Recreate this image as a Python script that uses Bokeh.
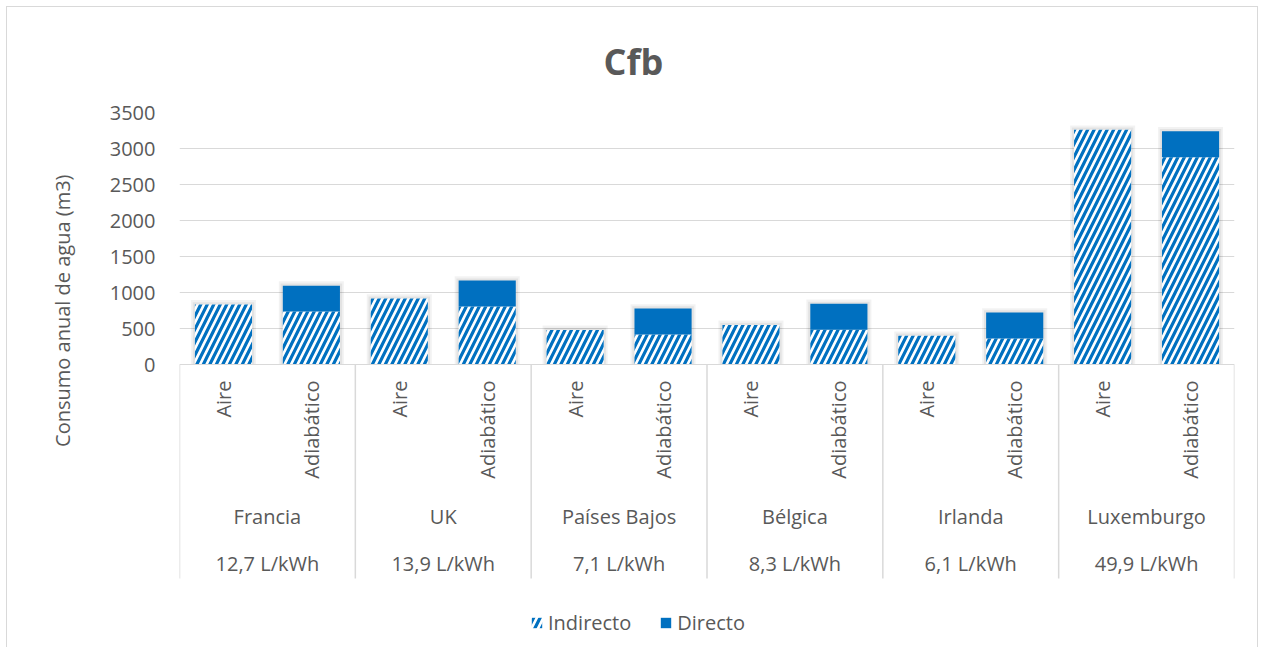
import math
from bokeh.plotting import figure
from bokeh.models import Range1d, FixedTicker, Span, Legend, LegendItem, Title
from bokeh.core.properties import value
from bokeh.embed import file_html
from bokeh.resources import INLINE

# ---------------- data ----------------
countries = ["Francia", "UK", "Países Bajos", "Bélgica", "Irlanda", "Luxemburgo"]
intensities = ["12,7 L/kWh", "13,9 L/kWh", "7,1 L/kWh", "8,3 L/kWh", "6,1 L/kWh", "49,9 L/kWh"]
systems = ["Aire", "Adiabático"]
indirecto_aire = [835, 915, 480, 550, 400, 3260]
indirecto_adiabatico = [735, 805, 415, 482, 360, 2880]
directo_aire = [0, 0, 0, 0, 0, 0]
directo_adiabatico = [360, 360, 363, 361, 362, 360]
y_ticks = [0, 500, 1000, 1500, 2000, 2500, 3000, 3500]
series_names = ["Indirecto", "Directo"]

# ---------------- style / layout ----------------
BLUE = "#0070C0"
TXT = "#595959"
GRID = "#d9d9d9"
FONT = "Open Sans"
OFFSET = 7              # page px where the figure starts
W, H = 1250, 641
FRAME_LEFT_PX = 179
FRAME_RIGHT_PX = 1234
FRAME_TOP_PX = 112      # page px of y = top tick
ZERO_PX = 364           # page px of y = 0
Y_MAX = y_ticks[-1]
px_per_unit = (ZERO_PX - FRAME_TOP_PX) / Y_MAX


def ydata(page_px):
    return (ZERO_PX - page_px) / px_per_unit


y_start = ydata(H + OFFSET)

# slots
xs, ind, dire, sys_labels = [], [], [], []
for i, c in enumerate(countries):
    for j, s in enumerate(systems):
        xs.append(len(systems) * i + j + 0.5)
        ind.append(indirecto_aire[i] if s == "Aire" else indirecto_adiabatico[i])
        dire.append(directo_aire[i] if s == "Aire" else directo_adiabatico[i])
        sys_labels.append(s)
tops = [a + b for a, b in zip(ind, dire)]
n_slots = len(xs)
BAR_W = 0.65

p = figure(width=W, height=H, x_range=Range1d(0, n_slots), y_range=Range1d(y_start, Y_MAX),
           output_backend="svg", toolbar_location=None,
           min_border_left=FRAME_LEFT_PX - OFFSET,
           min_border_right=(OFFSET + W) - FRAME_RIGHT_PX,
           min_border_top=FRAME_TOP_PX - OFFSET,
           min_border_bottom=0)
p.outline_line_color = None
p.background_fill_color = "white"
p.border_fill_color = "white"
p.styles = {"margin-left": f"{OFFSET}px", "margin-top": f"{OFFSET}px",
            "outline": "1px solid #d9d9d9", "outline-offset": "0px"}

# title
p.title.text = "Cfb"
p.title.text_font = FONT
p.title.text_font_size = "36px"
p.title.text_font_style = "bold"
p.title.text_color = TXT
p.title.align = "left"
p.title.offset = 424
p.title.standoff = 53

# y axis label as a side title
ylab = Title(text="Consumo anual de agua (m3)", align="right", offset=62,
             text_font=FONT, text_font_size="20px", text_font_style="normal",
             text_color=TXT, standoff=62)
p.add_layout(ylab, "left")

# axes
p.xaxis.visible = False
p.xgrid.grid_line_color = None
p.yaxis.ticker = FixedTicker(ticks=y_ticks)
p.yaxis.axis_line_color = None
p.yaxis.major_tick_line_color = None
p.yaxis.minor_tick_line_color = None
p.yaxis.major_label_text_font = FONT
p.yaxis.major_label_text_font_size = "20px"
p.yaxis.major_label_text_color = TXT
p.yaxis.major_label_standoff = 18
p.ygrid.grid_line_color = GRID
p.ygrid.ticker = FixedTicker(ticks=y_ticks[1:])

p.add_layout(Span(location=0, dimension="width", line_color=GRID, line_width=1))

# soft shadow behind bars
for extra_w, extra_top, alpha in [(0.09, 60, 0.05), (0.05, 30, 0.06)]:
    p.vbar(x=xs, width=BAR_W + extra_w, bottom=0, top=[t + extra_top for t in tops],
           fill_color="black", fill_alpha=alpha, line_color=None)

r_ind = p.vbar(x=xs, width=BAR_W, bottom=0, top=ind, fill_color="white",
               hatch_pattern="/", hatch_color=BLUE, hatch_scale=13, hatch_weight=3.2,
               line_color=None)
r_dir = p.vbar(x=xs, width=BAR_W, bottom=ind, top=tops, fill_color=BLUE, line_color=None)

# category labels (multi-level axis drawn manually)
p.text(x=xs, y=[ydata(380)] * n_slots, text=sys_labels, angle=math.pi / 2,
       text_align="right", text_baseline="middle", text_font=value(FONT),
       text_font_size="20px", text_color=TXT)
gx = [len(systems) * i + len(systems) / 2 for i in range(len(countries))]
p.text(x=gx, y=[ydata(516)] * len(countries), text=countries, text_align="center",
       text_baseline="middle", text_font=value(FONT), text_font_size="20px", text_color=TXT)
p.text(x=gx, y=[ydata(563)] * len(countries), text=intensities, text_align="center",
       text_baseline="middle", text_font=value(FONT), text_font_size="20px", text_color=TXT)
sep_x = [len(systems) * i for i in range(len(countries) + 1)]
p.segment(x0=sep_x, x1=sep_x, y0=[0] * len(sep_x), y1=[ydata(578)] * len(sep_x),
          line_color=GRID, line_width=1.5)

legend = Legend(items=[LegendItem(label=series_names[0], renderers=[r_ind]),
                       LegendItem(label=series_names[1], renderers=[r_dir])],
                orientation="horizontal", location=(351, 12),
                border_line_color=None, background_fill_alpha=0,
                label_text_font=FONT, label_text_font_size="20px", label_text_color=TXT,
                glyph_width=13, glyph_height=13, spacing=28, padding=0, margin=0,
                label_standoff=5)
p.add_layout(legend)

open("out.html", "w").write(file_html(p, INLINE))
